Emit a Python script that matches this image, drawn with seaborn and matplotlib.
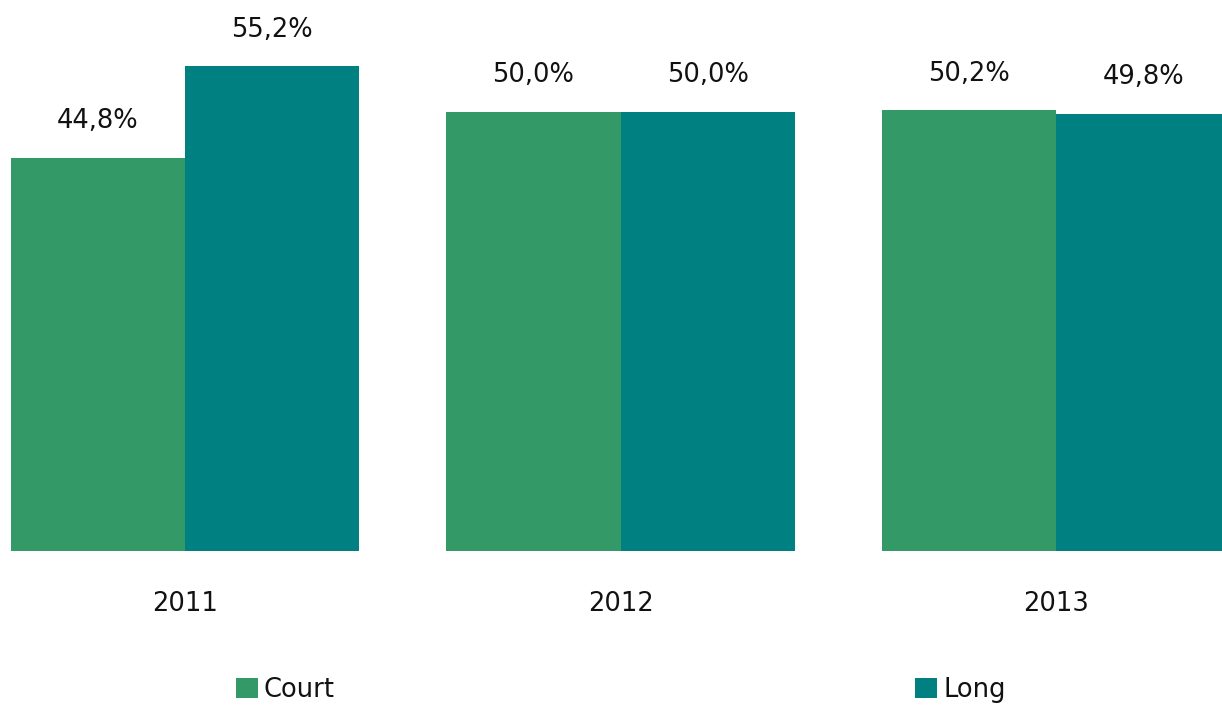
import matplotlib
matplotlib.use("Agg")
import matplotlib.pyplot as plt
import seaborn as sns
import pandas as pd
from matplotlib.patches import Patch

years = ["2011", "2012", "2013"]
court = [44.8, 50.0, 50.2]
long_ = [55.2, 50.0, 49.8]
series_names = ["Court", "Long"]
colors = ["#339966", "#008080"]

df = pd.DataFrame({
    "year": years * 2,
    "value": court + long_,
    "serie": [series_names[0]] * 3 + [series_names[1]] * 3,
})

sns.set_theme(style="white")
plt.rcParams["font.family"] = ["DejaVu Sans"]

FS = 18.5
fig = plt.figure(figsize=(12.22, 7.07), dpi=100)
ax = fig.add_axes([0, 0.2207, 1, 0.7793])

sns.barplot(data=df, x="year", y="value", hue="serie", palette=colors,
            saturation=1, width=0.8, linewidth=0, ax=ax, errorbar=None)

ax.set_ylim(0, 62.76)
ax.set_xlim(-0.425, 2.381)
ax.legend_.remove()

for cont in ax.containers:
    labels = [f"{v:.1f}".replace(".", ",") + "%" for v in cont.datavalues]
    ax.bar_label(cont, labels=labels, padding=17, fontsize=FS, color="#111111")

for s in ax.spines.values():
    s.set_visible(False)
ax.set_yticks([])
ax.set_xlabel("")
ax.set_ylabel("")
ax.tick_params(axis="x", length=0, pad=29, labelsize=FS, labelcolor="#111111")

handles = [Patch(facecolor=c, edgecolor="none") for c in colors]
fig.legend(handles, series_names, loc="center", bbox_to_anchor=(0.508, 0.024),
           ncol=2, frameon=False, fontsize=FS, handlelength=0.86, handleheight=0.86,
           handletextpad=0.23, columnspacing=22.6, labelcolor="#111111")

fig.savefig("out.png", dpi=100)
